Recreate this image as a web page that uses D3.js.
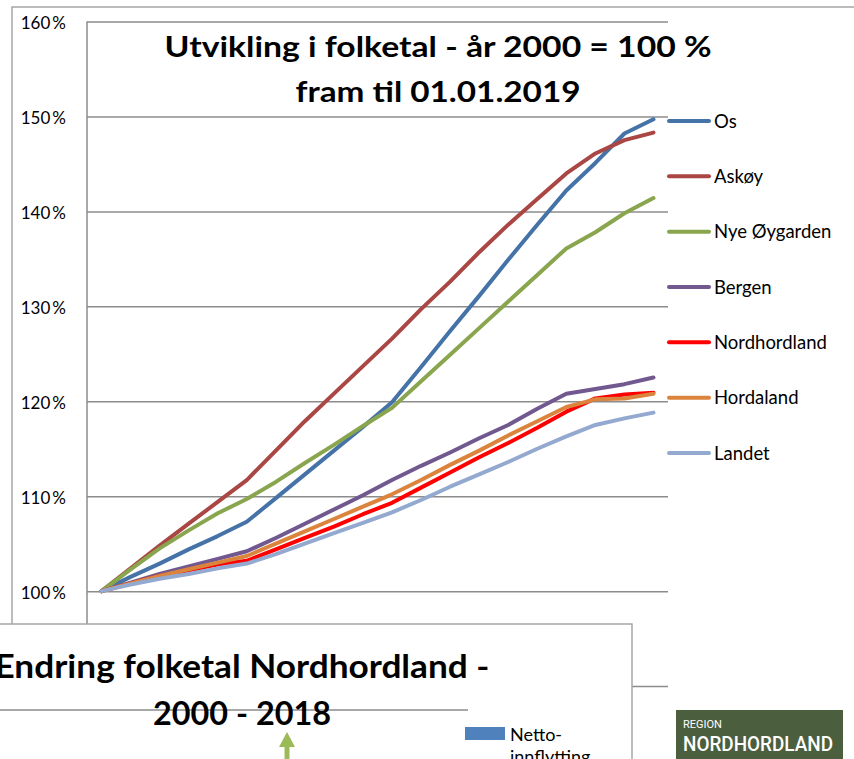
<!DOCTYPE html>
<html>
<head>
<meta charset="utf-8">
<script src="https://cdn.jsdelivr.net/npm/d3@7"></script>
<style>
  body { margin: 0; background: #fff; }
  svg { display: block; font-family: Lato, "Open Sans", sans-serif; }
</style>
</head>
<body>
<div id="chart"></div>
<script>
// years on the category axis (population at 01.01 each year)
const years = [2000, 2001, 2002, 2003, 2004, 2005, 2006, 2007, 2008, 2009,
               2010, 2011, 2012, 2013, 2014, 2015, 2016, 2017, 2018, 2019];

// index values, year 2000 = 100 %
const os          = [100, 101.5, 102.9, 104.4, 105.8, 107.3, 109.8, 112.3, 114.8, 117.3,
                     119.9, 123.6, 127.4, 131.1, 134.9, 138.6, 142.2, 145.1, 148.2, 149.7];
const askoy       = [100, 102.4, 104.8, 107.1, 109.4, 111.7, 114.8, 117.9, 120.8, 123.7,
                     126.6, 129.7, 132.6, 135.7, 138.6, 141.3, 144.0, 146.1, 147.5, 148.3];
const nyeOygarden = [100, 102.3, 104.5, 106.4, 108.2, 109.7, 111.5, 113.5, 115.4, 117.4,
                     119.3, 122.1, 124.9, 127.7, 130.5, 133.3, 136.1, 137.8, 139.8, 141.4];
const bergen      = [100, 100.9, 101.8, 102.6, 103.4, 104.2, 105.6, 107.1, 108.6, 110.1,
                     111.7, 113.2, 114.6, 116.1, 117.5, 119.2, 120.8, 121.3, 121.8, 122.5];
const nordhordland= [100, 100.8, 101.6, 102.2, 102.8, 103.2, 104.4, 105.6, 106.8, 108.1,
                     109.3, 110.9, 112.5, 114.1, 115.6, 117.2, 118.9, 120.3, 120.7, 120.9];
const hordaland   = [100, 100.8, 101.6, 102.3, 103.0, 103.7, 105.0, 106.3, 107.6, 108.9,
                     110.2, 111.7, 113.3, 114.8, 116.4, 117.9, 119.4, 120.2, 120.3, 120.8];
const landet      = [100, 100.7, 101.3, 101.8, 102.4, 102.9, 103.9, 105.0, 106.1, 107.2,
                     108.3, 109.6, 111.0, 112.3, 113.6, 115.0, 116.3, 117.5, 118.2, 118.8];

const seriesNames  = ["Os", "Askøy", "Nye Øygarden", "Bergen", "Nordhordland", "Hordaland", "Landet"];
const seriesValues = [os, askoy, nyeOygarden, bergen, nordhordland, hordaland, landet];
const seriesColors = ["#4572a7", "#aa4643", "#89a54e", "#71588f", "#ff0000", "#db843d", "#93a9cf"];

// 90 % gridline is there but its label sits behind the second chart
const yTicks = [90, 100, 110, 120, 130, 140, 150, 160];

const titleLines  = ["Utvikling i folketal - år 2000 = 100 %", "fram til 01.01.2019"];
const title2Lines = ["Endring folketal Nordhordland -", "2000 - 2018"];
const legend2Label = ["Netto-", "innflytting"];

const width = 854, height = 759;

let svg = d3.select("#chart").append("svg")
  .attr("width", width)
  .attr("height", height);

// outer frame of the slide object
svg.append("rect")
  .attr("x", 12).attr("y", 7)
  .attr("width", 900).attr("height", 800)
  .attr("fill", "#fff")
  .attr("stroke", "#a6a6a6")
  .attr("stroke-width", 1.5);

let plot = { left: 87, right: 668 };

let xScale = d3.scalePoint()
  .domain(years)
  .range([plot.left, plot.right])
  .padding(0.5);

let yScale = d3.scaleLinear()
  .domain([80, 160])
  .range([781, 21.5]);

// gridlines + y labels
let yAxis = d3.axisLeft(yScale)
  .tickValues(yTicks)
  .tickSize(-(plot.right - plot.left))
  .tickFormat(d => d >= 100 ? d + "\u2009%" : "");

let gy = svg.append("g")
  .attr("class", "y-axis")
  .attr("transform", `translate(${plot.left},0)`)
  .call(yAxis);

gy.select(".domain")
  .attr("d", `M0,${yScale(160)}V${height + 40}`)
  .attr("stroke", "#8c8c8c")
  .attr("stroke-width", 1.5);
gy.selectAll(".tick line")
  .attr("stroke", "#8c8c8c")
  .attr("stroke-width", 1.5);
gy.selectAll(".tick text")
  .attr("x", -21)
  .attr("dy", "0.42em")
  .attr("fill", "#000")
  .style("font-size", "17px")
  .style("font-family", "Lato, sans-serif");

// title (widths)
const titleWidths = [547, 285];
svg.append("g")
  .selectAll("text")
  .data(titleLines)
  .enter()
  .append("text")
    .attr("x", 438)
    .attr("y", (d, i) => 57 + i * 45)
    .attr("text-anchor", "middle")
    .attr("textLength", (d, i) => titleWidths[i])
    .attr("lengthAdjust", "spacingAndGlyphs")
    .style("font-size", "29px")
    .style("font-weight", "bold")
    .text(d => d);

// lines
let line = d3.line()
  .x((d, i) => xScale(years[i]))
  .y(d => yScale(d));

svg.append("g")
  .selectAll("path")
  .data(seriesValues)
  .enter()
  .append("path")
    .attr("d", d => line(d))
    .attr("fill", "none")
    .attr("stroke", (d, i) => seriesColors[i])
    .attr("stroke-width", 4)
    .attr("stroke-linejoin", "round")
    .attr("stroke-linecap", "round");

// legend
let legendY = d3.scalePoint()
  .domain(seriesNames)
  .range([121, 453]);

let legend = svg.append("g")
  .selectAll("g")
  .data(seriesNames)
  .enter()
  .append("g")
    .attr("transform", d => `translate(669,${legendY(d)})`);

legend.append("line")
  .attr("x1", 0).attr("x2", 40)
  .attr("stroke", (d, i) => seriesColors[i])
  .attr("stroke-width", 4)
  .attr("stroke-linecap", "round");

legend.append("text")
  .attr("x", 45)
  .attr("dy", "0.36em")
  .style("font-size", "18.5px")
  .text(d => d);

// second chart overlapping from below
let box2 = svg.append("g");
box2.append("rect")
  .attr("x", -5).attr("y", 624)
  .attr("width", 637).attr("height", 200)
  .attr("fill", "#fff")
  .attr("stroke", "#a6a6a6")
  .attr("stroke-width", 1.5);

box2.append("line")
  .attr("x1", 0).attr("x2", 468)
  .attr("y1", 710).attr("y2", 710)
  .attr("stroke", "#8c8c8c")
  .attr("stroke-width", 1.5);

const title2Widths = [495, 178];
box2.selectAll("text.t2")
  .data(title2Lines)
  .enter()
  .append("text")
    .attr("class", "t2")
    .attr("x", 242)
    .attr("y", (d, i) => 678 + i * 47)
    .attr("text-anchor", "middle")
    .attr("textLength", (d, i) => title2Widths[i])
    .attr("lengthAdjust", "spacingAndGlyphs")
    .style("font-size", "32px")
    .style("font-weight", "bold")
    .text(d => d);

box2.append("rect")
  .attr("x", 465).attr("y", 727)
  .attr("width", 40).attr("height", 13)
  .attr("fill", "#4f81bd");

box2.selectAll("text.l2")
  .data(legend2Label)
  .enter()
  .append("text")
    .attr("class", "l2")
    .attr("x", 510)
    .attr("y", (d, i) => 741 + i * 22)
    .style("font-size", "18px")
    .text(d => d);

// green arrow
box2.append("line")
  .attr("x1", 287).attr("x2", 287)
  .attr("y1", 770).attr("y2", 742)
  .attr("stroke", "#9bbb59")
  .attr("stroke-width", 5);
box2.append("path")
  .attr("d", "M287,732L279,747L295,747Z")
  .attr("fill", "#9bbb59");

// logo
let logo = svg.append("g");
logo.append("rect")
  .attr("x", 676).attr("y", 710)
  .attr("width", 167).attr("height", 60)
  .attr("fill", "#4b5e3d");
logo.append("text")
  .attr("x", 683).attr("y", 728)
  .attr("fill", "#fff")
  .style("font-family", "Roboto, sans-serif")
  .style("font-size", "11px")
  .text("REGION");
logo.append("text")
  .attr("x", 683).attr("y", 751)
  .attr("fill", "#fff")
  .attr("textLength", 150)
  .attr("lengthAdjust", "spacingAndGlyphs")
  .style("font-family", "Roboto, sans-serif")
  .style("font-weight", "500")
  .style("font-size", "21px")
  .text("NORDHORDLAND");
</script>
</body>
</html>
